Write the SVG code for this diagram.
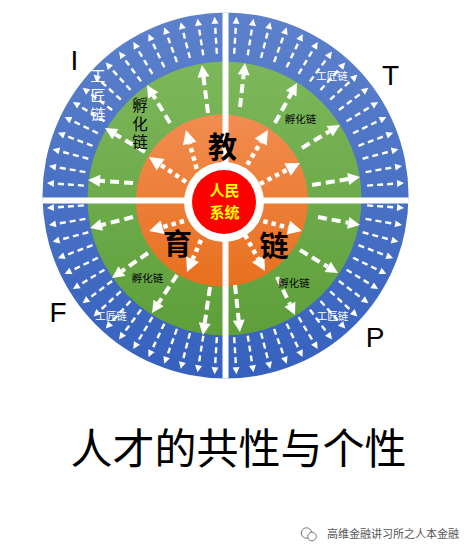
<svg xmlns="http://www.w3.org/2000/svg" xmlns:xlink="http://www.w3.org/1999/xlink" width="472" height="553" viewBox="0 0 472 553">
<style>
.cjk{font-family:'Noto Sans CJK SC','Noto Sans',sans-serif}
.lat{font-family:'Liberation Sans',Arial,sans-serif}
.big{font-size:29px;font-weight:bold;fill:#000}
.small{font-size:10.5px;fill:#000}
.smallw{font-size:10.5px;fill:#fff}
.letter{font-size:28px;fill:#000}
.core{font-size:15px;font-weight:bold;fill:#ffff00}
.dashB{stroke:#fff;stroke-width:2.4;stroke-dasharray:6 4;fill:none}
.dashG{stroke:#fff;stroke-width:4;stroke-dasharray:9 5;fill:none;marker-end:url(#hG)}
.dotO{stroke:#fff;stroke-width:4.5;stroke-dasharray:4.5 4;fill:none;marker-end:url(#hO)}
</style>
<defs>
<linearGradient id="gBlue" x1="0" y1="0" x2="0" y2="1">
<stop offset="0" stop-color="#5d81cb"/><stop offset="1" stop-color="#3561be"/>
</linearGradient>
<linearGradient id="gGreen" x1="0" y1="0" x2="0" y2="1">
<stop offset="0" stop-color="#7db75b"/><stop offset="1" stop-color="#5e9f3a"/>
</linearGradient>
<linearGradient id="gOrange" x1="0" y1="0" x2="0" y2="1">
<stop offset="0" stop-color="#f28c50"/><stop offset="1" stop-color="#e8701e"/>
</linearGradient>
<marker id="hB" markerUnits="userSpaceOnUse" markerWidth="8" markerHeight="8" refX="0" refY="3.5" orient="auto" overflow="visible"><path d="M0,0 L7,3.5 L0,7 z" fill="#fff"/></marker>
<marker id="hG" markerUnits="userSpaceOnUse" markerWidth="13" markerHeight="12" refX="0" refY="6" orient="auto" overflow="visible"><path d="M0,0 L12,6 L0,12 z" fill="#fff"/></marker>
<marker id="hO" markerUnits="userSpaceOnUse" markerWidth="15" markerHeight="14" refX="0" refY="7" orient="auto" overflow="visible"><path d="M0,0 L14,7 L0,14 z" fill="#fff"/></marker>
<line id="ray" class="dashB" x1="142" y1="0" x2="172" y2="0" marker-end="url(#hB)"/>
</defs>
<rect width="472" height="553" fill="#fff"/>
<g id="ring-blue"><circle cx="225.5" cy="195.5" r="183" fill="url(#gBlue)"/></g>
<g id="ring-green"><circle cx="224.5" cy="198.5" r="137" fill="url(#gGreen)"/></g>
<g id="ring-orange"><circle cx="222" cy="200.5" r="86" fill="url(#gOrange)"/></g>
<g id="cross" fill="#fff">
<rect x="222.5" y="12.5" width="6" height="366"/>
<rect x="42.5" y="197.5" width="366" height="6"/>
</g>
<g id="core"><circle cx="224" cy="202" r="40" fill="#fff"/><circle cx="224" cy="202" r="32" fill="#ff0000"/>
<text class="cjk core" x="224.5" y="189.5" text-anchor="middle" dominant-baseline="central">人民</text>
<text class="cjk core" x="224.5" y="211.5" text-anchor="middle" dominant-baseline="central">系统</text>
</g>
<g id="connectors">
<g id="blue-rays">
<g transform="translate(225.5 195.5)">
<use xlink:href="#ray" href="#ray" transform="rotate(-4)"/><use href="#ray" transform="rotate(-9.5)"/><use href="#ray" transform="rotate(-15)"/><use href="#ray" transform="rotate(-20.5)"/><use href="#ray" transform="rotate(-26)"/><use href="#ray" transform="rotate(-31.5)"/><use href="#ray" transform="rotate(-37)"/><use href="#ray" transform="rotate(-42.5)"/><use href="#ray" transform="rotate(-48)"/><use href="#ray" transform="rotate(-53.5)"/><use href="#ray" transform="rotate(-59)"/><use href="#ray" transform="rotate(-64.5)"/><use href="#ray" transform="rotate(-70)"/><use href="#ray" transform="rotate(-75.5)"/><use href="#ray" transform="rotate(-81)"/><use href="#ray" transform="rotate(-86.5)"/>
<use href="#ray" transform="rotate(-176)"/><use href="#ray" transform="rotate(-170.5)"/><use href="#ray" transform="rotate(-165)"/><use href="#ray" transform="rotate(-159.5)"/><use href="#ray" transform="rotate(-154)"/><use href="#ray" transform="rotate(-148.5)"/><use href="#ray" transform="rotate(-143)"/><use href="#ray" transform="rotate(-137.5)"/><use href="#ray" transform="rotate(-132)"/><use href="#ray" transform="rotate(-126.5)"/><use href="#ray" transform="rotate(-121)"/><use href="#ray" transform="rotate(-115.5)"/><use href="#ray" transform="rotate(-110)"/><use href="#ray" transform="rotate(-104.5)"/><use href="#ray" transform="rotate(-99)"/><use href="#ray" transform="rotate(-93.5)"/>
<use href="#ray" transform="rotate(176)"/><use href="#ray" transform="rotate(170.5)"/><use href="#ray" transform="rotate(165)"/><use href="#ray" transform="rotate(159.5)"/><use href="#ray" transform="rotate(154)"/><use href="#ray" transform="rotate(148.5)"/><use href="#ray" transform="rotate(143)"/><use href="#ray" transform="rotate(137.5)"/><use href="#ray" transform="rotate(132)"/><use href="#ray" transform="rotate(126.5)"/><use href="#ray" transform="rotate(121)"/><use href="#ray" transform="rotate(115.5)"/><use href="#ray" transform="rotate(110)"/><use href="#ray" transform="rotate(104.5)"/><use href="#ray" transform="rotate(99)"/><use href="#ray" transform="rotate(93.5)"/>
<use href="#ray" transform="rotate(4)"/><use href="#ray" transform="rotate(9.5)"/><use href="#ray" transform="rotate(15)"/><use href="#ray" transform="rotate(20.5)"/><use href="#ray" transform="rotate(26)"/><use href="#ray" transform="rotate(31.5)"/><use href="#ray" transform="rotate(37)"/><use href="#ray" transform="rotate(42.5)"/><use href="#ray" transform="rotate(48)"/><use href="#ray" transform="rotate(53.5)"/><use href="#ray" transform="rotate(59)"/><use href="#ray" transform="rotate(64.5)"/><use href="#ray" transform="rotate(70)"/><use href="#ray" transform="rotate(75.5)"/><use href="#ray" transform="rotate(81)"/><use href="#ray" transform="rotate(86.5)"/>
</g>
</g>
<g id="green-arrows">
<line class="dashG" x1="133" y1="183" x2="100" y2="180.8"/>
<line class="dashG" x1="145" y1="152" x2="115.3" y2="134.2"/>
<line class="dashG" x1="170" y1="123" x2="153.2" y2="95.3"/>
<line class="dashG" x1="208" y1="113" x2="203.5" y2="76.9"/>
<line class="dashG" x1="240" y1="107" x2="243.6" y2="74.9"/>
<line class="dashG" x1="275" y1="123" x2="291.2" y2="93.5"/>
<line class="dashG" x1="302" y1="148" x2="329.7" y2="131.2"/>
<line class="dashG" x1="312" y1="185" x2="348.2" y2="179"/>
<line class="dashG" x1="133" y1="217" x2="101.6" y2="225"/>
<line class="dashG" x1="148" y1="253" x2="121.9" y2="271.1"/>
<line class="dashG" x1="177" y1="275" x2="158.6" y2="303"/>
<line class="dashG" x1="210" y1="287" x2="204.7" y2="323.1"/>
<line class="dashG" x1="318" y1="217" x2="348.2" y2="222.8"/>
<line class="dashG" x1="300" y1="250" x2="327.7" y2="266.8"/>
<line class="dashG" x1="277" y1="277" x2="289.9" y2="304.2"/>
<line class="dashG" x1="235" y1="285" x2="238.7" y2="320.1"/>
</g>
<g id="orange-arrows">
<line class="dotO" x1="186" y1="182" x2="160.6" y2="164.8"/>
<line class="dotO" x1="199" y1="177" x2="189.7" y2="143.5"/>
<line class="dotO" x1="243" y1="172" x2="260.8" y2="142"/>
<line class="dotO" x1="260" y1="184" x2="287.6" y2="169.5"/>
<line class="dotO" x1="184" y1="221" x2="162.5" y2="227.2"/>
<line class="dotO" x1="201" y1="240" x2="192.6" y2="259.2"/>
<line class="dotO" x1="255" y1="219" x2="288.4" y2="227.6"/>
<line class="dotO" x1="245" y1="235" x2="258.2" y2="258.8"/>
</g>
</g>
<g id="core-labels">
<text class="cjk big" x="222.5" y="145" text-anchor="middle" dominant-baseline="central">教</text>
<text class="cjk big" x="177.5" y="241.5" text-anchor="middle" dominant-baseline="central">育</text>
<text class="cjk big" x="274" y="244" text-anchor="middle" dominant-baseline="central">链</text>
</g>
<g id="incubation-labels">
<text class="cjk" x="140" y="125.5" font-size="15.5" fill="#000" writing-mode="vertical-rl" letter-spacing="3" text-anchor="middle">孵化链</text>
<text class="cjk small" x="300.5" y="118" text-anchor="middle" dominant-baseline="central">孵化链</text>
<text class="cjk small" x="147.5" y="277" text-anchor="middle" dominant-baseline="central">孵化链</text>
<text class="cjk small" x="294" y="282" text-anchor="middle" dominant-baseline="central">孵化链</text>
</g>
<g id="craft-labels">
<text class="cjk" x="98" y="97.5" font-size="15" fill="#fff" writing-mode="vertical-rl" letter-spacing="4.5" text-anchor="middle">工匠链</text>
<text class="cjk smallw" x="332" y="75" text-anchor="middle" dominant-baseline="central">工匠链</text>
<text class="cjk smallw" x="111" y="315" text-anchor="middle" dominant-baseline="central">工匠链</text>
<text class="cjk smallw" x="332.5" y="315" text-anchor="middle" dominant-baseline="central">工匠链</text>
</g>
<g id="letters">
<text class="lat letter" x="74.5" y="70" text-anchor="middle">I</text>
<text class="lat letter" x="390.5" y="85" text-anchor="middle">T</text>
<text class="lat letter" x="58" y="322" text-anchor="middle">F</text>
<text class="lat letter" x="375" y="347" text-anchor="middle">P</text>
</g>
<g id="title">
<text class="cjk" x="238.5" y="464" font-size="42" fill="#000" text-anchor="middle">人才的共性与个性</text>
</g>
<g id="watermark">
<circle cx="306.5" cy="533" r="5.2" fill="#fff" stroke="#777" stroke-width="1"/>
<circle cx="312" cy="536.5" r="4.3" fill="#fff" stroke="#777" stroke-width="1"/>
<text class="cjk" x="327" y="538" font-size="11" fill="#555">高维金融讲习所之人本金融</text>
</g>
</svg>
